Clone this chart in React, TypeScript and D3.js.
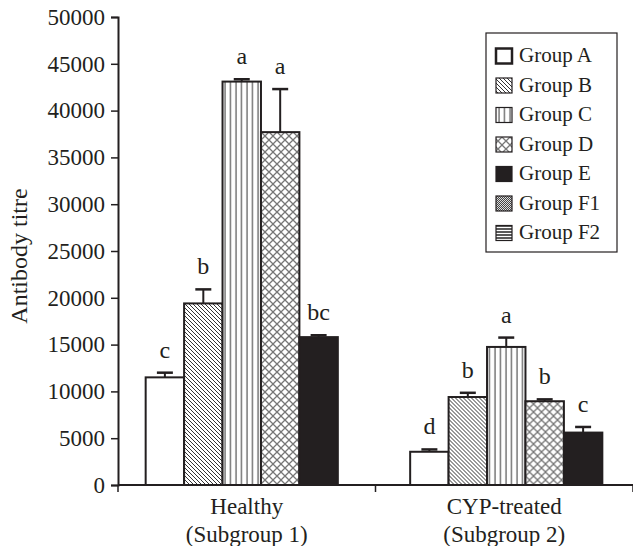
import React, { useRef, useEffect } from "react";
import * as d3 from "d3";

const categories = ["Healthy|(Subgroup 1)", "CYP-treated|(Subgroup 2)"];
const groups = ["Group A", "Group B", "Group C", "Group D", "Group E"];
const legendGroups = ["Group A", "Group B", "Group C", "Group D", "Group E", "Group F1", "Group F2"];
const healthyValues = [11500, 19400, 43100, 37700, 15800];
const healthyErrors = [500, 1500, 250, 4600, 200];
const healthyLetters = ["c", "b", "a", "a", "bc"];
const cypValues = [3550, 9400, 14750, 8950, 5600];
const cypErrors = [250, 450, 1000, 200, 600];
const cypLetters = ["d", "b", "a", "b", "c"];
const yTicks = [0, 5000, 10000, 15000, 20000, 25000, 30000, 35000, 40000, 45000, 50000];

const fills: Record<string, string> = {
  "Group A": "#fff",
  "Group B": "url(#patB)",
  "Group C": "url(#patC)",
  "Group D": "url(#patD)",
  "Group E": "#231f20",
  "Group F1": "url(#patF1)",
  "Group F2": "url(#patF2)",
};

const FONT = "'Liberation Serif', 'Times New Roman', serif";

const App: React.FC = () => {
  const ref = useRef<SVGSVGElement | null>(null);

  useEffect(() => {
    if (!ref.current) return;
    const svg = d3.select(ref.current);
    svg.selectAll("*").remove();

    const width = 633;
    const height = 546;
    const left = 118;
    const right = 633;
    const top = 17;
    const bottom = 485;

    const defs = svg.append("defs");
    // diagonal lines
    const pb = defs.append("pattern").attr("id", "patB").attr("patternUnits", "userSpaceOnUse")
      .attr("width", 4).attr("height", 4);
    pb.append("rect").attr("width", 4).attr("height", 4).attr("fill", "#fff");
    pb.append("path").attr("d", "M-1,-1 L5,5 M-1,3 L1,5 M3,-1 L5,1")
      .attr("stroke", "#333").attr("stroke-width", 1);
    // vertical lines
    const pc = defs.append("pattern").attr("id", "patC").attr("patternUnits", "userSpaceOnUse")
      .attr("width", 5.5).attr("height", 10);
    pc.append("rect").attr("width", 5.5).attr("height", 10).attr("fill", "#fff");
    pc.append("line").attr("x1", 2).attr("x2", 2).attr("y1", 0).attr("y2", 10)
      .attr("stroke", "#555").attr("stroke-width", 1.2);
    // diamond lattice
    const pd = defs.append("pattern").attr("id", "patD").attr("patternUnits", "userSpaceOnUse")
      .attr("width", 8).attr("height", 8);
    pd.append("rect").attr("width", 8).attr("height", 8).attr("fill", "#fff");
    pd.append("path").attr("d", "M0,0 L8,8 M8,0 L0,8")
      .attr("stroke", "#777").attr("stroke-width", 1.3);
    // dots
    const pf1 = defs.append("pattern").attr("id", "patF1").attr("patternUnits", "userSpaceOnUse")
      .attr("width", 2).attr("height", 2);
    pf1.append("rect").attr("width", 2).attr("height", 2).attr("fill", "#ddd");
    pf1.append("rect").attr("width", 1).attr("height", 1).attr("fill", "#444");
    pf1.append("rect").attr("x", 1).attr("y", 1).attr("width", 1).attr("height", 1).attr("fill", "#444");
    // horizontal lines
    const pf2 = defs.append("pattern").attr("id", "patF2").attr("patternUnits", "userSpaceOnUse")
      .attr("width", 10).attr("height", 3);
    pf2.append("rect").attr("width", 10).attr("height", 3).attr("fill", "#fff");
    pf2.append("line").attr("x1", 0).attr("x2", 10).attr("y1", 1).attr("y2", 1)
      .attr("stroke", "#222").attr("stroke-width", 1.5);

    const x0 = d3.scaleBand().domain(categories).range([left, right]).padding(0);
    const x1 = d3.scaleBand().domain(groups).range([0, x0.bandwidth()])
      .paddingInner(0).paddingOuter(0.85);
    const y = d3.scaleLinear().domain([0, 50000]).range([bottom, top]);

    const data = [
      { cat: categories[0], values: healthyValues, errors: healthyErrors, letters: healthyLetters, shift: -5 },
      { cat: categories[1], values: cypValues, errors: cypErrors, letters: cypLetters, shift: 2 },
    ];

    data.forEach((d) => {
      const g = svg.append("g").attr("transform", `translate(${(x0(d.cat) || 0) + d.shift},0)`);
      groups.forEach((grp, i) => {
        const bx = x1(grp) || 0;
        const bw = x1.bandwidth();
        const v = d.values[i];
        const top = v + d.errors[i];
        const cx = bx + bw / 2;
        g.append("line").attr("x1", cx).attr("x2", cx).attr("y1", y(v)).attr("y2", y(top))
          .attr("stroke", "#231f20").attr("stroke-width", 2);
        g.append("line").attr("x1", cx - 8).attr("x2", cx + 8).attr("y1", y(top)).attr("y2", y(top))
          .attr("stroke", "#231f20").attr("stroke-width", 2.5);
        g.append("rect").attr("x", bx).attr("y", y(v)).attr("width", bw)
          .attr("height", bottom - y(v)).attr("fill", fills[grp])
          .attr("stroke", "#231f20").attr("stroke-width", 2);
        g.append("text").attr("x", cx).attr("y", y(top) - 15).attr("text-anchor", "middle")
          .attr("font-family", FONT).attr("font-size", 24).attr("fill", "#231f20")
          .text(d.letters[i]);
      });
    });

    // y axis
    const yAxis = svg.append("g").attr("transform", `translate(${left},0)`)
      .call(d3.axisLeft(y).tickValues(yTicks).tickFormat(d3.format("d")).tickSize(7).tickPadding(6));
    yAxis.select(".domain").attr("stroke", "#231f20").attr("stroke-width", 2);
    yAxis.selectAll(".tick line").attr("stroke", "#231f20").attr("stroke-width", 1.5);
    yAxis.selectAll("text").attr("font-family", FONT).attr("font-size", 23).attr("fill", "#231f20");

    // x axis
    const xAxis = svg.append("g").attr("transform", `translate(0,${bottom})`);
    xAxis.append("line").attr("x1", left).attr("x2", right).attr("stroke", "#231f20").attr("stroke-width", 2);
    const xTicks = [left, ...categories.map((c) => (x0(c) || 0) + x0.bandwidth())];
    xTicks.forEach((t) => {
      xAxis.append("line").attr("x1", t).attr("x2", t).attr("y1", 0).attr("y2", 7)
        .attr("stroke", "#231f20").attr("stroke-width", 1.5);
    });
    categories.forEach((c) => {
      const [l1, l2] = c.split("|");
      const cx = (x0(c) || 0) + x0.bandwidth() / 2;
      const t = xAxis.append("text").attr("text-anchor", "middle").attr("font-family", FONT)
        .attr("font-size", 23).attr("fill", "#231f20");
      t.append("tspan").attr("x", cx).attr("y", 29).text(l1);
      t.append("tspan").attr("x", cx).attr("y", 57).text(l2);
    });

    svg.append("text").attr("transform", `translate(27,256) rotate(-90)`)
      .attr("text-anchor", "middle").attr("font-family", FONT).attr("font-size", 24)
      .attr("fill", "#231f20").text("Antibody titre");

    // legend
    const lg = svg.append("g").attr("transform", "translate(486,33)");
    lg.append("rect").attr("width", 131).attr("height", 219).attr("fill", "#fff")
      .attr("stroke", "#231f20").attr("stroke-width", 1.2);
    const ly = d3.scalePoint().domain(legendGroups).range([23, 200]);
    legendGroups.forEach((grp) => {
      const yy = ly(grp) || 0;
      lg.append("rect").attr("x", 10).attr("y", yy - 7.5).attr("width", 16).attr("height", 15)
        .attr("fill", fills[grp]).attr("stroke", "#231f20").attr("stroke-width", grp === "Group A" ? 2.5 : 1.2);
      lg.append("text").attr("x", 33).attr("y", yy + 6).attr("font-family", FONT)
        .attr("font-size", 21).attr("fill", "#231f20").text(grp);
    });

    svg.attr("width", width).attr("height", height);
  }, []);

  return <svg ref={ref} style={{ position: "absolute", left: 0, top: 0 }} />;
};

export default App;
